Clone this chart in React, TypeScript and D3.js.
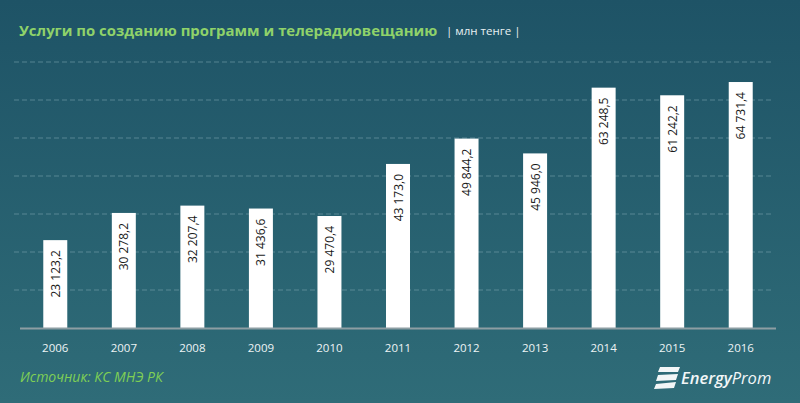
import React from 'react';
import * as d3 from 'd3';

// Услуги по созданию программ и телерадиовещанию, млн тенге
const YEARS = ['2006', '2007', '2008', '2009', '2010', '2011', '2012', '2013', '2014', '2015', '2016'];
const VALUES = [23123.2, 30278.2, 32207.4, 31436.6, 29470.4, 43173.0, 49844.2, 45946.0, 63248.5, 61242.2, 64731.4];
const GRID_TICKS = [10000, 20000, 30000, 40000, 50000, 60000, 70000];

const W = 800;
const H = 403;
const FONT = '"Open Sans", "DejaVu Sans", sans-serif';

const fmt = (v: number) => {
  const [int, dec] = v.toFixed(1).split('.');
  return int.replace(/\B(?=(\d{3})+(?!\d))/g, ' ') + ',' + dec;
};

export default function App() {
  const x = d3.scaleBand<string>()
    .domain(YEARS)
    .range([21, 775])
    .paddingInner(0.65)
    .paddingOuter(0.325);
  const y = d3.scaleLinear().domain([0, 70000]).range([328, 62]);

  return (
    <svg width={W} height={H} style={{ position: 'absolute', left: 0, top: 0, display: 'block' }}>
      <defs>
        <linearGradient id="bg" x1="0" y1="0" x2="0" y2="1">
          <stop offset="0%" stopColor="#1e5366" />
          <stop offset="100%" stopColor="#2f6c78" />
        </linearGradient>
      </defs>
      <rect width={W} height={H} fill="url(#bg)" />

      {/* title */}
      <text x={19} y={36} fontFamily={FONT} fontSize={14.9} fontWeight="bold" fill="#8fd26a">
        Услуги по созданию программ и телерадиовещанию
      </text>
      <text x={446} y={35} fontFamily={FONT} fontSize={11.5} fill="#e8f0f2">
        | млн тенге |
      </text>

      {/* gridlines */}
      {GRID_TICKS.map(t => (
        <line key={t} x1={14} x2={771} y1={y(t)} y2={y(t)}
          stroke="#7fa7b2" strokeOpacity={0.55} strokeWidth={1} strokeDasharray="5,3" />
      ))}

      {/* bars */}
      {VALUES.map((v, i) => {
        const bx = x(YEARS[i])!;
        const top = y(v);
        const cx = bx + x.bandwidth() / 2;
        return (
          <g key={YEARS[i]}>
            <rect x={bx} y={top} width={x.bandwidth()} height={y(0) - top} fill="#ffffff" />
            <text transform={`translate(${cx + 4.5},${top + 10}) rotate(-90)`}
              textAnchor="end" fontFamily={FONT} fontSize={12} fill="#1a1a1a">
              {fmt(v)}
            </text>
          </g>
        );
      })}

      {/* baseline */}
      <line x1={20} x2={776} y1={y(0) + 0.5} y2={y(0) + 0.5} stroke="#8d9ea3" strokeWidth={2} />

      {/* year labels */}
      {YEARS.map(yr => (
        <text key={yr} x={x(yr)! + x.bandwidth() / 2} y={352} textAnchor="middle"
          fontFamily={FONT} fontSize={11.5} fill="#eef4f5">{yr}</text>
      ))}

      {/* source */}
      <text x={20} y={382} fontFamily={FONT} fontSize={14} fontStyle="italic" fill="#7fcf55">
        Источник: КС МНЭ РК
      </text>

      {/* logo */}
      <g fill="#f2f6f7">
        <path d="M660,367 L680,367 L678,372 L658,372 Z" />
        <path d="M658,375 L678,374 L676,380 L656,381 Z" />
        <path d="M656,384 L676,382 L674,388 L654,389 Z" />
        <text x={681} y={384} fontFamily={FONT} fontSize={16.5} fontStyle="italic" fontWeight="600">
          Energy<tspan fontWeight="normal">Prom</tspan>
        </text>
      </g>
    </svg>
  );
}
